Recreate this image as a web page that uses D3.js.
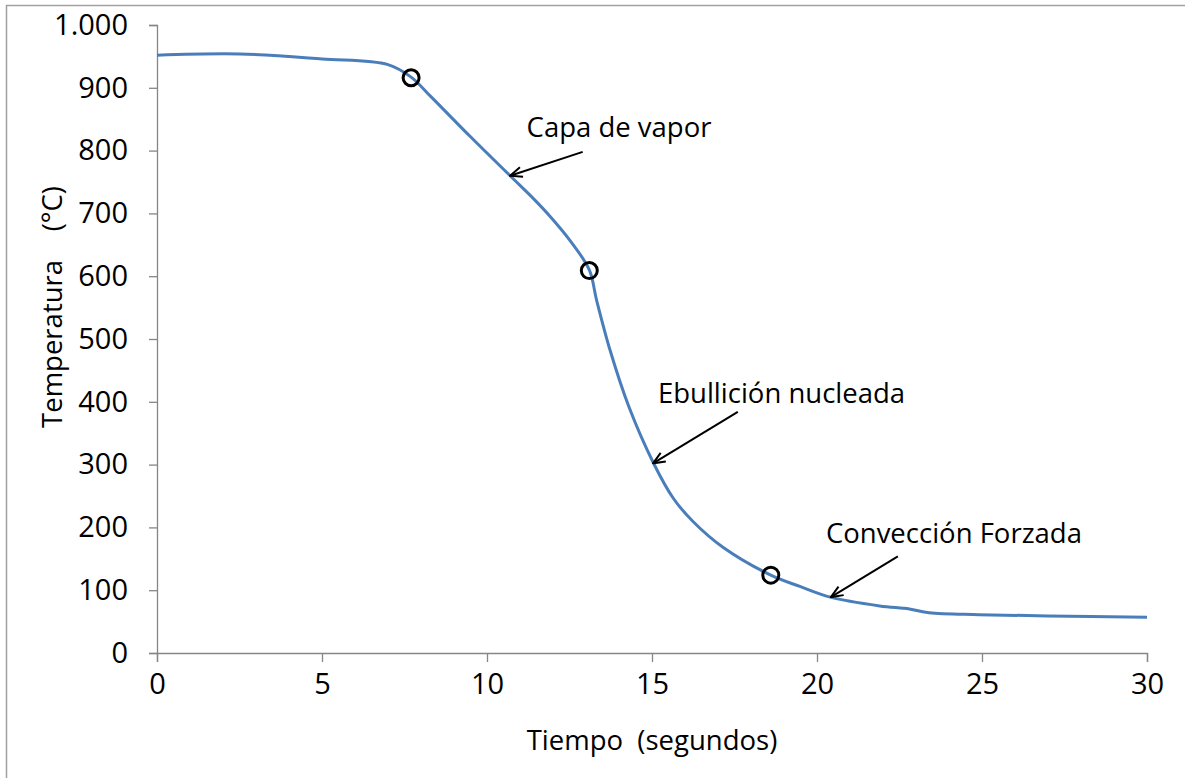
<!DOCTYPE html>
<html>
<head>
<meta charset="utf-8">
<script src="https://cdn.jsdelivr.net/npm/d3@7"></script>
<style>
  html, body { margin: 0; padding: 0; background: #fff; }
  svg { display: block; }
  text { font-family: "Open Sans", sans-serif; fill: #000; }
</style>
</head>
<body>
<svg id="chart" width="1185" height="778"></svg>
<script>
// ---- data ----
const time = [0, 2.5, 5, 7, 7.7, 8.3, 9.5, 10.7, 11.4, 11.9, 12.5, 13.1, 13.32, 13.73, 14.3, 15.04, 15.65, 16.25, 17.16, 18.6, 19.48, 20.4, 21.9, 22.8, 23.4, 24.9, 27, 30];
const temperature = [952, 954, 946, 937, 917, 886, 822, 760, 724, 696, 658, 610, 562, 482, 392, 303, 246, 209, 168, 124, 106, 89, 75, 70, 64, 61, 59, 57];

const markerTime = [7.7, 13.1, 18.6];
const markerTemp = [916, 609, 124];

const xTicks = [0, 5, 10, 15, 20, 25, 30];
const yTicks = [0, 100, 200, 300, 400, 500, 600, 700, 800, 900, 1000];
const yTickLabels = ["0", "100", "200", "300", "400", "500", "600", "700", "800", "900", "1.000"];

const annotationText = ["Capa de vapor", "Ebullición nucleada", "Convección Forzada"];
const annotationTipTime = [10.7, 15.03, 20.42];
const annotationTipTemp = [760, 302, 89];
const annotationTailTime = [12.9, 17.6, 22.45];
const annotationTailTemp = [798, 384, 154];
const annotationLabelTime = [11.2, 15.18, 20.27];
const annotationLabelTemp = [822, 398, 175];

const xTitle = "Tiempo  (segundos)";
const yTitle = "Temperatura    (°C)";

// ---- layout ----
const svg = d3.select("#chart");
const W = 1185, H = 778;
const plot = { left: 157, right: 1147, top: 25, bottom: 653 };

const x = d3.scaleLinear().domain([0, 30]).range([plot.left, plot.right]);
const y = d3.scaleLinear().domain([0, 1000]).range([plot.bottom, plot.top]);

// outer chart border (cropped: only top and left visible)
svg.append("rect")
  .attr("x", 6.5).attr("y", 5.5)
  .attr("width", W + 10).attr("height", H + 10)
  .attr("fill", "none").attr("stroke", "#a0a0a0").attr("stroke-width", 1.5);

const axisColor = "#868686";

// x axis
const gx = svg.append("g")
  .attr("transform", `translate(0,${plot.bottom})`)
  .call(d3.axisBottom(x).tickValues(xTicks).tickSize(9).tickPadding(11).tickFormat(d3.format("d")));
gx.select(".domain").attr("stroke", axisColor).attr("stroke-width", 1.3);
gx.selectAll(".tick line").attr("stroke", axisColor).attr("stroke-width", 1.3);
gx.selectAll(".tick text").attr("font-size", 29).attr("font-family", "Open Sans").attr("fill", "#000");

// y axis
const gy = svg.append("g")
  .attr("transform", `translate(${plot.left},0)`)
  .call(d3.axisLeft(y).tickValues(yTicks).tickSize(8).tickPadding(21)
    .tickFormat((d, i) => yTickLabels[i]));
gy.select(".domain").attr("stroke", axisColor).attr("stroke-width", 1.3);
gy.selectAll(".tick line").attr("stroke", axisColor).attr("stroke-width", 1.3);
gy.selectAll(".tick text").attr("font-size", 29).attr("font-family", "Open Sans").attr("fill", "#000");

// axis titles
svg.append("text")
  .attr("x", (plot.left + plot.right) / 2).attr("y", 750)
  .attr("text-anchor", "middle").attr("font-size", 27.5)
  .style("white-space", "pre")
  .text(xTitle);

svg.append("text")
  .attr("transform", `translate(62,${307}) rotate(-90)`)
  .attr("text-anchor", "middle").attr("font-size", 27.5)
  .style("white-space", "pre")
  .text(yTitle);

// curve
const pts = time.map((t, i) => [t, temperature[i]]);
const line = d3.line().x(d => x(d[0])).y(d => y(d[1])).curve(d3.curveCatmullRom.alpha(0.5));
svg.append("path")
  .datum(pts)
  .attr("d", line)
  .attr("fill", "none")
  .attr("stroke", "#4a7ebb")
  .attr("stroke-width", 3)
  .attr("stroke-linejoin", "round");

// markers
svg.selectAll("circle.marker")
  .data(markerTime.map((t, i) => [t, markerTemp[i]]))
  .enter().append("circle")
  .attr("class", "marker")
  .attr("cx", d => x(d[0])).attr("cy", d => y(d[1]))
  .attr("r", 8)
  .attr("fill", "none")
  .attr("stroke", "#000")
  .attr("stroke-width", 3);

// annotations with arrows
svg.append("defs").append("marker")
  .attr("id", "arrow")
  .attr("viewBox", "0 0 14 12")
  .attr("refX", 13).attr("refY", 6)
  .attr("markerWidth", 14).attr("markerHeight", 12)
  .attr("markerUnits", "userSpaceOnUse")
  .attr("orient", "auto")
  .append("path")
  .attr("d", "M1,1 L13,6 L1,11")
  .attr("fill", "none").attr("stroke", "#000").attr("stroke-width", 2);

annotationText.forEach((txt, i) => {
  svg.append("line")
    .attr("x1", x(annotationTailTime[i])).attr("y1", y(annotationTailTemp[i]))
    .attr("x2", x(annotationTipTime[i])).attr("y2", y(annotationTipTemp[i]))
    .attr("stroke", "#000").attr("stroke-width", 2)
    .attr("marker-end", "url(#arrow)");
  svg.append("text")
    .attr("x", x(annotationLabelTime[i])).attr("y", y(annotationLabelTemp[i]))
    .attr("font-size", 27.5)
    .text(txt);
});
</script>
</body>
</html>
